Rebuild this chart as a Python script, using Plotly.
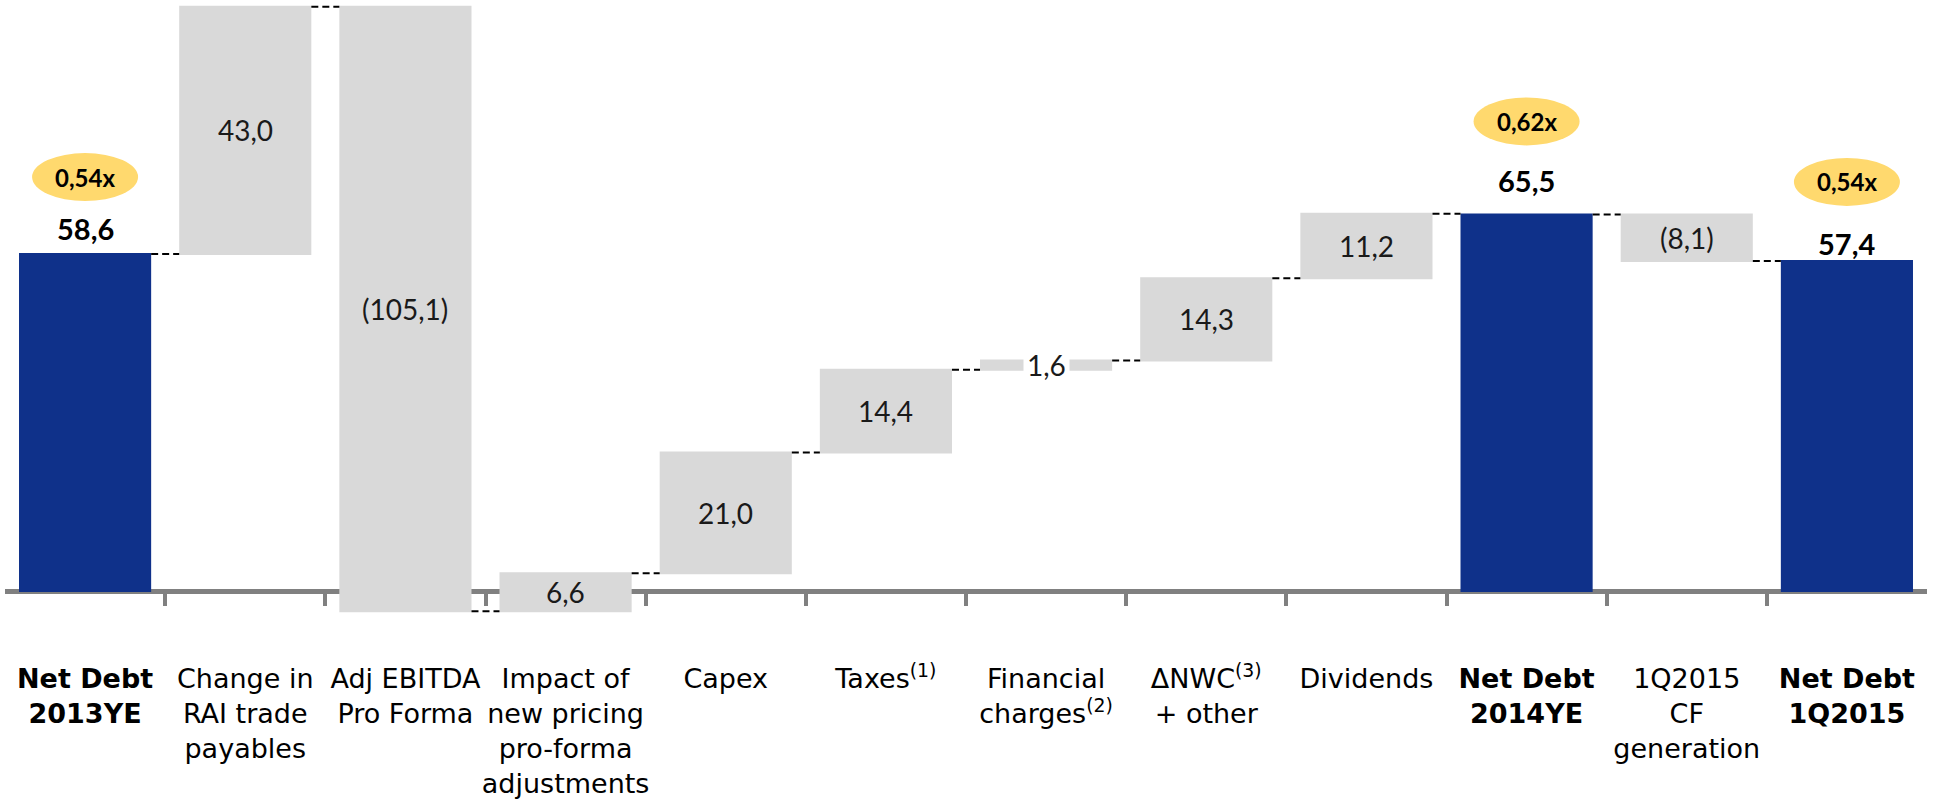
import plotly.graph_objects as go

# ---------------- data ----------------
categories = [
    "<b>Net Debt<br>2013YE</b>",
    "Change in<br>RAI trade<br>payables",
    "Adj EBITDA<br>Pro Forma",
    "Impact of<br>new pricing<br>pro-forma<br>adjustments",
    "Capex",
    "Taxes<sup>(1)</sup>",
    "Financial<br>charges<sup>(2)</sup>",
    "ΔNWC<sup>(3)</sup><br>+ other",
    "Dividends",
    "<b>Net Debt<br>2014YE</b>",
    "1Q2015<br>CF<br>generation",
    "<b>Net Debt<br>1Q2015</b>",
]
measures = ["absolute", "relative", "relative", "relative", "relative", "relative",
            "relative", "relative", "relative", "absolute", "relative", "absolute"]
values = [58.6, 43.0, -105.1, 6.6, 21.0, 14.4, 1.6, 14.3, 11.2, 65.5, -8.1, 57.4]
value_labels = ["58,6", "43,0", "(105,1)", "6,6", "21,0", "14,4", "1,6", "14,3",
                "11,2", "65,5", "(8,1)", "57,4"]
leverage_idx = [0, 9, 11]
leverage_labels = ["0,54x", "0,62x", "0,54x"]

# ---------------- styles ----------------
BLUE = "#0F318A"
GREY = "#D9D9D9"
YELLOW = "#FFD96E"
AXIS_GREY = "#808080"
NUM_FONT = "Lato"
CAT_FONT = "DejaVu Sans"
total_label_shift = {0: 26, 9: 34, 11: 17}      # px above bar top
ellipse_shift = {0: 77, 9: 93, 11: 79}           # px above bar top

W, H = 1943, 799
m_l, m_r, m_t, m_b = 5, 16, 0, 139
zero_px = 591
px_per_unit = 5.75
plot_h = H - m_t - m_b
y_top = (zero_px - m_t) / px_per_unit
y_bot = -(plot_h - (zero_px - m_t)) / px_per_unit

x = list(range(len(categories)))

# cumulative positions for labels
starts, ends = [], []
run = 0.0
for m, v in zip(measures, values):
    if m == "absolute":
        s, e = 0.0, v
        run = v
    else:
        s, e = run, run + v
        run = e
    starts.append(s)
    ends.append(e)

fig = go.Figure()
fig.add_trace(go.Waterfall(
    x=x, y=values, measure=measures,
    width=0.825,
    totals=dict(marker=dict(color=BLUE, line=dict(width=0))),
    increasing=dict(marker=dict(color=GREY, line=dict(width=0))),
    decreasing=dict(marker=dict(color=GREY, line=dict(width=0))),
    connector=dict(mode="between", line=dict(color="black", width=2, dash="7px,4px")),
    hoverinfo="skip", showlegend=False,
))
# invisible trace to carry the zero-line axis
fig.add_trace(go.Scatter(x=[0], y=[0], xaxis="x2", mode="markers",
                         marker=dict(opacity=0), hoverinfo="skip", showlegend=False))

annotations = []
shapes = []
for i in x:
    if measures[i] == "absolute":
        annotations.append(dict(
            x=i, y=ends[i], xref="x", yref="y", text="<b>" + value_labels[i] + "</b>",
            showarrow=False, yanchor="middle", yshift=total_label_shift[i],
            font=dict(family=NUM_FONT, size=29, color="black")))
    else:
        ann = dict(
            x=i, y=(starts[i] + ends[i]) / 2, xref="x", yref="y", text=value_labels[i],
            showarrow=False, yanchor="middle",
            font=dict(family=NUM_FONT, size=28, color="#1a1a1a"))
        if abs(values[i]) < 3:
            ann.update(bgcolor="white", borderpad=3)
        annotations.append(ann)

for idx, lab in zip(leverage_idx, leverage_labels):
    off = ellipse_shift[idx]
    shapes.append(dict(
        type="circle", xref="x", yref="y", xsizemode="pixel", ysizemode="pixel",
        xanchor=idx, yanchor=ends[idx], x0=-53, x1=53, y0=off - 24, y1=off + 24,
        fillcolor=YELLOW, line=dict(width=0), layer="above"))
    annotations.append(dict(
        x=idx, y=ends[idx], xref="x", yref="y", text="<b>" + lab + "</b>",
        showarrow=False, yanchor="middle", yshift=off,
        font=dict(family=NUM_FONT, size=24, color="black")))

axis_pos = (0 - y_bot) / (y_top - y_bot)

fig.update_layout(
    width=W, height=H,
    margin=dict(l=m_l, r=m_r, t=m_t, b=m_b, autoexpand=False),
    paper_bgcolor="white", plot_bgcolor="white",
    showlegend=False,
    xaxis=dict(range=[-0.5, len(x) - 0.5], tickmode="array", tickvals=x,
               ticktext=categories, showgrid=False, zeroline=False, showline=False,
               ticks="", tickangle=0, automargin=False,
               tickfont=dict(family=CAT_FONT, size=27, color="black"),
               fixedrange=True),
    xaxis2=dict(overlaying="x", anchor="free", position=axis_pos, side="bottom",
                range=[-0.5, len(x) - 0.5], tickmode="array",
                tickvals=[i + 0.5 for i in x[:-1]], ticks="outside", ticklen=12,
                tickwidth=4, tickcolor=AXIS_GREY, showline=True, linecolor=AXIS_GREY,
                linewidth=5, showticklabels=False, showgrid=False, zeroline=False,
                automargin=False, layer="below traces"),
    yaxis=dict(range=[y_bot, y_top], visible=False, showgrid=False, zeroline=False,
               automargin=False),
    annotations=annotations,
    shapes=shapes,
)

fig.write_html("out.html")
